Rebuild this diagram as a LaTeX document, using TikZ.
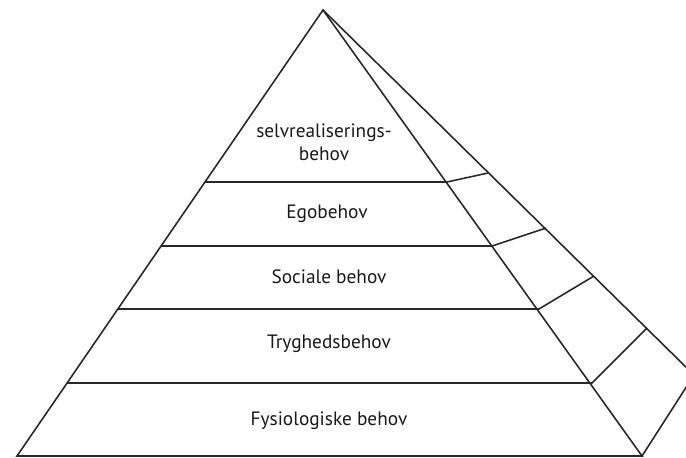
\documentclass[tikz,border=0pt]{standalone}
\usepackage{fontspec}
\setmainfont{PT Sans}
\usepackage{xcolor}
\usetikzlibrary{positioning}
\definecolor{pyr_line}{RGB}{40,40,40}
\definecolor{pyr_text}{RGB}{25,25,25}

\begin{document}
\begin{tikzpicture}[x=0.02cm, y=-0.02cm,
          edge/.style={draw=pyr_line, line width=0.9pt, line join=miter},
          lvl/.style={text=pyr_text, font=\fontsize{11}{13}\selectfont, align=center, inner sep=0pt}]
        \useasboundingbox (0,0) rectangle (686,457);
        \clip (0,0) rectangle (686,457);
        % corners of the pyramid
        \coordinate (apex)  at (323,10);
        \coordinate (bl)    at (17,456);
        \coordinate (br)    at (642,456);
        \coordinate (back)  at (694,375);
        % level lines, left end / front right end / back end
        \coordinate (l1) at (205,182); \coordinate (r1) at (447,182); \coordinate (b1) at (488,173);
        \coordinate (l2) at (161,246); \coordinate (r2) at (492,246); \coordinate (b2) at (546,228);
        \coordinate (l3) at (118,309); \coordinate (r3) at (539,309); \coordinate (b3) at (594,276);
        \coordinate (l4) at (67,383);  \coordinate (r4) at (592,383); \coordinate (b4) at (647,328);
        % outline
        \draw[edge] (bl) -- (apex) -- (br) -- cycle;
        \draw[edge] (apex) -- (back) -- (br);
        \draw[edge] (l1) -- (r1) -- (b1);
        \draw[edge] (l2) -- (r2) -- (b2);
        \draw[edge] (l3) -- (r3) -- (b3);
        \draw[edge] (l4) -- (r4) -- (b4);
        % labels
        \node[lvl] (selv)    at (324,142) {selvrealiserings-\\behov};
        \node[lvl] (ego)     at (327,214) {Egobehov};
        \node[lvl] (sociale) at (329,277) {Sociale behov};
        \node[lvl] (tryghed) at (329,344) {Tryghedsbehov};
        \node[lvl] (fysio)   at (329,421) {Fysiologiske behov};
      \end{tikzpicture}
\end{document}
